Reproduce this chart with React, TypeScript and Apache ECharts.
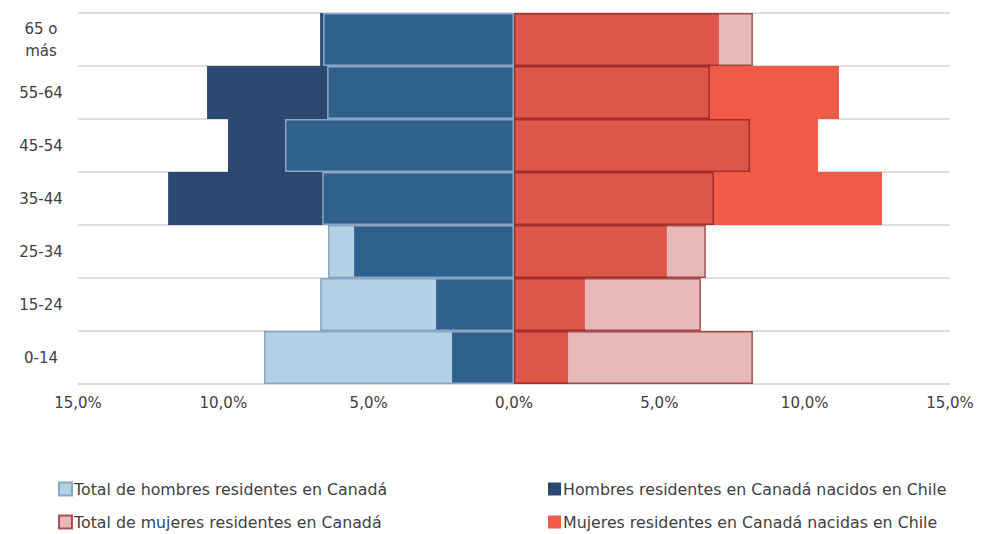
import React, { useEffect, useRef } from "react";
import * as echarts from "echarts";

const categories = ["0-14", "15-24", "25-34", "35-44", "45-54", "55-64", "65 o\nmás"];
const totalHombres = [8.6, 6.67, 6.4, 6.6, 7.88, 6.43, 6.57];
const chileHombres = [2.13, 2.68, 5.5, 11.9, 9.84, 10.56, 6.67];
const totalMujeres = [8.22, 6.43, 6.6, 6.88, 8.12, 6.74, 8.22];
const chileMujeres = [1.86, 2.44, 5.26, 12.66, 10.46, 11.18, 7.05];
const xTicks = [-15, -10, -5, 0, 5, 10, 15];

const names = {
  th: "Total de hombres residentes en Canadá",
  ch: "Hombres residentes en Canadá nacidos en Chile",
  tm: "Total de mujeres residentes en Canadá",
  cm: "Mujeres residentes en Canadá nacidas en Chile",
};

const FONT = "DejaVu Sans";
const TXT = "#404040";

export default function App() {
  const ref = useRef<HTMLDivElement>(null);
  useEffect(() => {
    if (!ref.current) return;
    const chart = echarts.init(ref.current, null, { renderer: "svg" });
    const legend = (name: string, left: number, top: number) => ({
      data: [{ name, icon: "rect" }],
      left,
      top,
      padding: 0,
      orient: "horizontal",
      itemWidth: 13,
      itemHeight: 13,
      itemGap: 0,
      textStyle: { fontFamily: FONT, fontSize: 15.8, color: TXT, padding: [0, 0, 0, -3] },
    });
    chart.setOption({
      animation: false,
      textStyle: { fontFamily: FONT },
      grid: { left: 78, right: 34, top: 13, bottom: 150 },
      legend: [
        legend(names.th, 58, 481),
        legend(names.ch, 548, 481),
        legend(names.tm, 58, 514),
        legend(names.cm, 548, 514),
      ],
      xAxis: {
        type: "value",
        min: xTicks[0],
        max: xTicks[xTicks.length - 1],
        interval: 5,
        axisLine: { show: false },
        axisTick: { show: false },
        splitLine: { show: false },
        axisLabel: {
          fontFamily: FONT,
          fontSize: 15,
          color: TXT,
          margin: 11,
          formatter: (v: number) => Math.abs(v).toFixed(1).replace(".", ",") + "%",
        },
      },
      yAxis: {
        type: "category",
        data: categories,
        axisLine: { show: false },
        axisTick: { show: false },
        splitLine: { show: true, lineStyle: { color: "#d3d3d3", width: 1.5 } },
        axisLabel: {
          fontFamily: FONT,
          fontSize: 15,
          color: TXT,
          align: "center",
          margin: 37,
          lineHeight: 22,
          padding: [0, 0, 2, 0],
        },
      },
      series: [
        {
          name: names.ch,
          type: "bar",
          data: chileHombres.map((v) => -v),
          barGap: "-100%",
          barCategoryGap: "0%",
          itemStyle: { color: "#2a4870" },
          z: 2,
        },
        {
          name: names.cm,
          type: "bar",
          data: chileMujeres,
          barGap: "-100%",
          barCategoryGap: "0%",
          itemStyle: { color: "#f05a48" },
          z: 2,
        },
        {
          name: names.th,
          type: "bar",
          data: totalHombres.map((v) => -v),
          barGap: "-100%",
          barCategoryGap: "0%",
          itemStyle: {
            color: "rgba(60,136,186,0.39)",
            borderColor: "#8aa6c4",
            borderWidth: 1.5,
          },
          z: 3,
        },
        {
          name: names.tm,
          type: "bar",
          data: totalMujeres,
          barGap: "-100%",
          barCategoryGap: "0%",
          itemStyle: {
            color: "rgba(192,80,75,0.4)",
            borderColor: "rgba(140,35,35,0.75)",
            borderWidth: 1.5,
          },
          z: 3,
        },
      ],
    });
    return () => chart.dispose();
  }, []);
  return (
    <div
      ref={ref}
      style={{ width: 984, height: 534, position: "absolute", left: 0, top: 0 }}
    />
  );
}
